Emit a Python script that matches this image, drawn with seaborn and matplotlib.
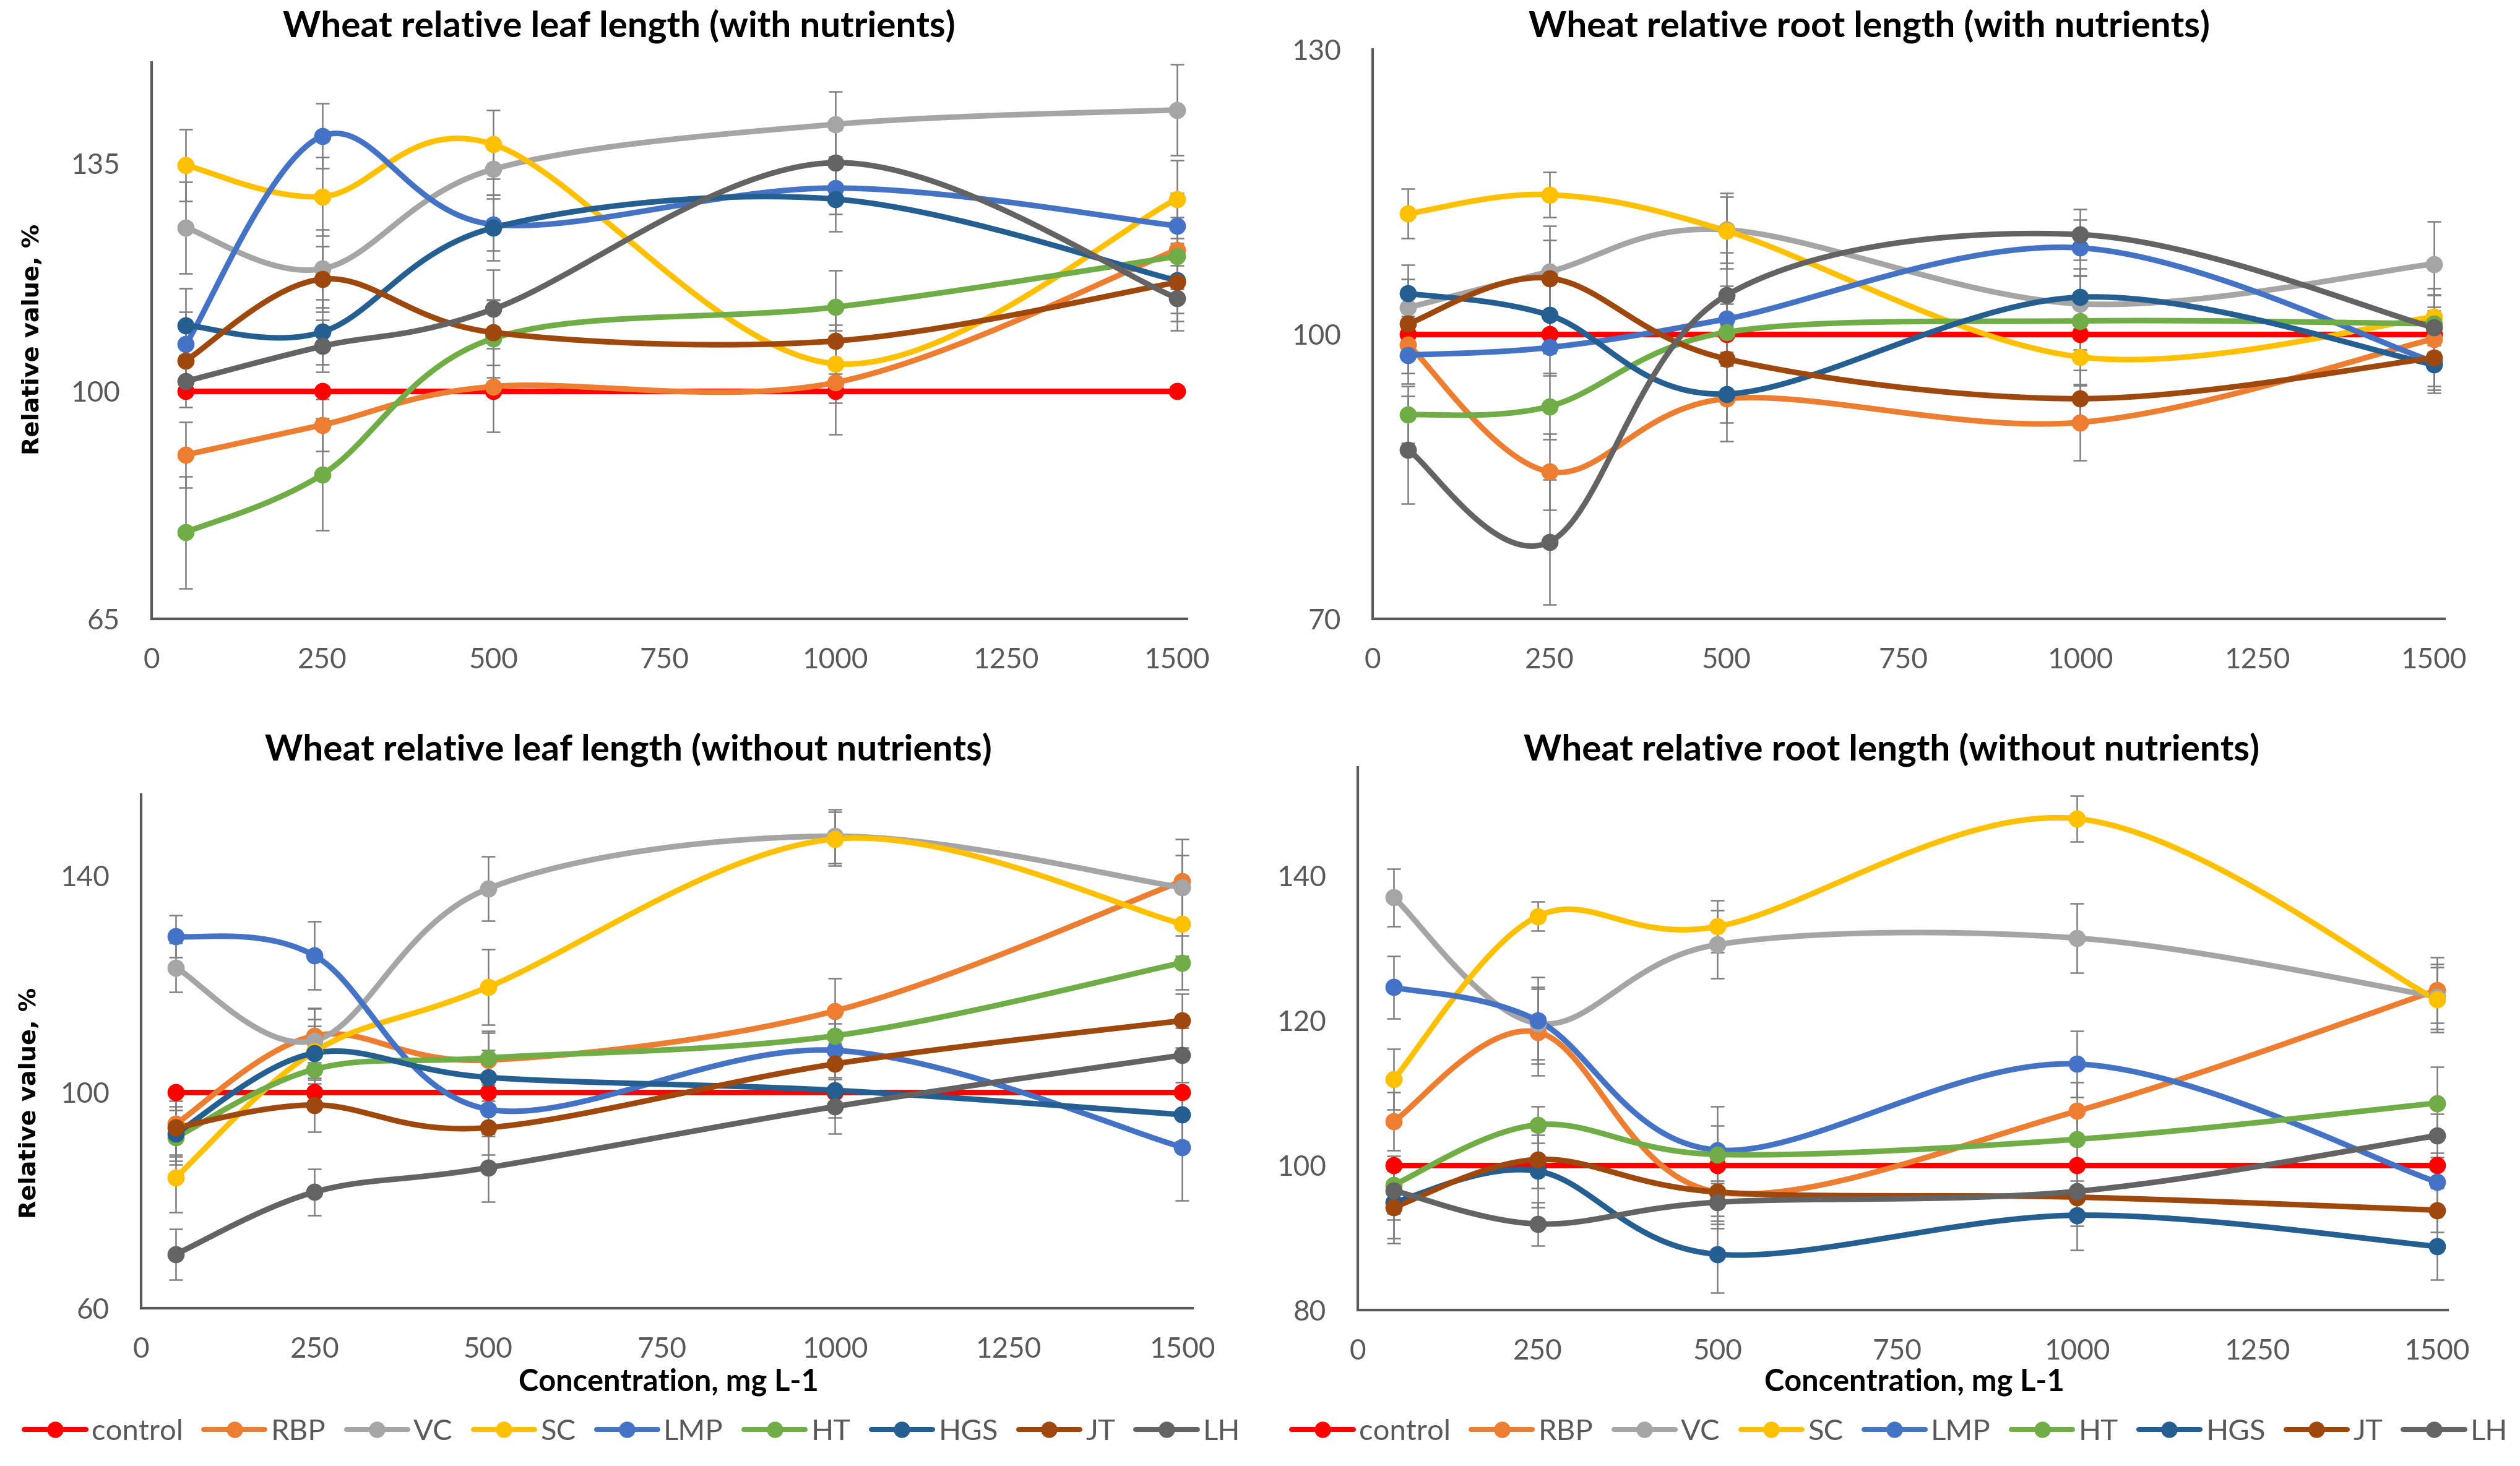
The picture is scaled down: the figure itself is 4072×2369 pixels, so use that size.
import numpy as np
import pandas as pd
import matplotlib
matplotlib.use('Agg')
import matplotlib.pyplot as plt
from matplotlib.lines import Line2D
import seaborn as sns

# concentrations (mg L-1) and treatments
conc = [50, 250, 500, 1000, 1500]
series = ['control', 'RBP', 'VC', 'SC', 'LMP', 'HT', 'HGS', 'JT', 'LH']
colors = ['#FF0000', '#ED7D31', '#A5A5A5', '#FFC000', '#4472C4',
          '#70AD47', '#255E91', '#9E480E', '#636363']

# leaf length, with nutrients (rows in series order)
leaf_with = [
    [100, 100, 100, 100, 100],
    [90.2, 94.8, 100.7, 101.3, 121.7],
    [125.1, 118.8, 134.1, 141.0, 143.2],
    [134.7, 129.9, 137.9, 104.2, 129.5],
    [107.2, 139.2, 125.6, 131.2, 125.4],
    [78.3, 87.2, 108.1, 112.9, 120.7],
    [110.1, 109.1, 125.1, 129.5, 117.0],
    [104.7, 117.2, 109.0, 107.7, 116.7],
    [101.5, 106.9, 112.6, 135.1, 114.3],
]
leaf_with_err = [
    [0, 0, 0, 0, 0],
    [5, 4, 7, 8, 5],
    [7, 6, 4, 5, 7],
    [5.5, 6, 5.3, 6, 6],
    [5, 5, 4, 4, 5],
    [8.6, 8.6, 6, 5.6, 5],
    [5.7, 5, 5, 5, 5],
    [5, 5, 5, 5, 6],
    [4, 4, 6, 5, 5],
]

# root length, with nutrients
root_with = [
    [100, 100, 100, 100, 100],
    [98.9, 85.5, 93.2, 90.7, 99.5],
    [102.8, 106.6, 111.0, 103.2, 107.4],
    [112.7, 114.7, 110.9, 97.6, 101.8],
    [97.8, 98.6, 101.6, 109.1, 97.1],
    [91.5, 92.4, 100.2, 101.4, 101.1],
    [104.3, 102.0, 93.7, 103.9, 96.8],
    [101.1, 105.9, 97.4, 93.2, 97.5],
    [87.8, 78.1, 104.1, 110.5, 100.7],
]
root_with_err = [
    [0, 0, 0, 0, 0],
    [3, 4, 4.5, 4, 3],
    [3, 4.8, 3.5, 3, 4.5],
    [2.6, 2.4, 4, 3, 3],
    [3, 3, 3.5, 3, 3],
    [3, 3.5, 3, 3, 3],
    [3, 4, 3, 3, 3],
    [3, 4, 3.5, 3, 3],
    [5.7, 6.6, 4.5, 2.7, 3.5],
]

# leaf length, without nutrients
leaf_without = [
    [100, 100, 100, 100, 100],
    [94.1, 110.4, 105.9, 115.0, 139.0],
    [123.0, 109.5, 137.6, 147.3, 137.8],
    [84.2, 107.5, 119.4, 146.8, 131.1],
    [128.8, 125.2, 96.8, 107.7, 89.8],
    [91.6, 104.2, 106.3, 110.4, 123.9],
    [92.3, 107.2, 102.7, 100.3, 95.8],
    [93.4, 97.6, 93.4, 105.2, 113.2],
    [70.0, 81.5, 86.0, 97.3, 106.8],
]
leaf_without_err = [
    [0, 0, 0, 0, 0],
    [6, 5, 5, 6, 7.8],
    [4.5, 6, 5.9, 5, 6],
    [6.5, 6, 7, 5, 6],
    [3.9, 6.3, 5, 5, 9.9],
    [5, 5, 5, 5, 5],
    [5, 5, 5, 5, 5],
    [5, 5, 5, 5, 5],
    [4.7, 4.3, 6.3, 5, 5],
]

# root length, without nutrients
root_without = [
    [100, 100, 100, 100, 100],
    [106.1, 118.4, 96.3, 107.5, 124.2],
    [137.0, 119.6, 130.5, 131.4, 123.3],
    [111.9, 134.4, 133.0, 147.9, 122.9],
    [124.6, 120.0, 102.1, 114.0, 97.7],
    [97.3, 105.6, 101.5, 103.6, 108.6],
    [94.9, 99.2, 87.7, 93.1, 88.8],
    [94.2, 100.8, 96.3, 95.6, 93.8],
    [96.5, 91.9, 94.9, 96.4, 104.1],
]
root_without_err = [
    [0, 0, 0, 0, 0],
    [4, 6, 5, 4, 4.5],
    [4, 5, 4.7, 4.8, 4.5],
    [4.2, 2, 3.6, 3.2, 4.5],
    [4.3, 6, 6, 4.6, 4],
    [4, 2.5, 4, 4, 5],
    [5, 5, 5.3, 4.8, 4.6],
    [5, 4, 4, 4, 3],
    [4, 3, 3, 3, 3],
]

sns.set_theme(style='white')
plt.rcParams['font.family'] = ['Lato', 'DejaVu Sans']

GREY = '#595959'


def smooth(xs, ys, n=40):
    # excel-like smoothed line: bezier segments with neighbour based tangents
    p = np.column_stack([xs, ys]).astype(float)
    ext = np.vstack([p[0], p, p[-1]])
    out = []
    t = np.linspace(0, 1, n)[:, None]
    for i in range(len(p) - 1):
        p0, p1 = ext[i + 1], ext[i + 2]
        c1 = p0 + (ext[i + 2] - ext[i]) / 6
        c2 = p1 - (ext[i + 3] - ext[i + 1]) / 6
        seg = (1 - t) ** 3 * p0 + 3 * (1 - t) ** 2 * t * c1 + 3 * (1 - t) * t ** 2 * c2 + t ** 3 * p1
        out.append(seg if i == 0 else seg[1:])
    return np.vstack(out)


def draw_panel(ax, vals, errs, ylim, yticks):
    for name, col, v, e in zip(series, colors, vals, errs):
        curve = smooth(conc, v)
        df = pd.DataFrame({'x': curve[:, 0], 'y': curve[:, 1]})
        sns.lineplot(data=df, x='x', y='y', ax=ax, color=col, lw=6.5,
                     sort=False, estimator=None)
        if any(e):
            ax.errorbar(conc, v, yerr=e, fmt='none', ecolor='#7F7F7F',
                        elinewidth=1.8, capsize=8, capthick=1.8, zorder=3)
        sns.scatterplot(x=conc, y=v, ax=ax, color=col, s=400,
                        edgecolor=col, linewidth=0, zorder=4)
    ax.set_xlim(0, 1515)
    ax.set_ylim(*ylim)
    ax.set_xticks(range(0, 1501, 250))
    ax.set_yticks(yticks)
    ax.set_xlabel('')
    ax.set_ylabel('')
    ax.tick_params(axis='both', length=0, labelsize=33, labelcolor=GREY)
    ax.tick_params(axis='x', pad=33)
    ax.tick_params(axis='y', pad=37)
    for s in ['top', 'right']:
        ax.spines[s].set_visible(False)
    for s in ['left', 'bottom']:
        ax.spines[s].set_color(GREY)
        ax.spines[s].set_linewidth(3)
    ax.grid(False)


fig = plt.figure(figsize=(40.72, 23.69), dpi=100)
ax1 = fig.add_axes([0.0602, 0.5779, 0.4109, 0.3795])
ax2 = fig.add_axes([0.5447, 0.5779, 0.4253, 0.3883])
ax3 = fig.add_axes([0.0560, 0.1076, 0.4172, 0.3504])
ax4 = fig.add_axes([0.5388, 0.1064, 0.4325, 0.3702])

draw_panel(ax1, leaf_with, leaf_with_err, (65, 150.5), [65, 100, 135])
draw_panel(ax2, root_with, root_with_err, (70, 130), [70, 100, 130])
draw_panel(ax3, leaf_without, leaf_without_err, (60, 155), [60, 100, 140])
draw_panel(ax4, root_without, root_without_err, (80, 155), [80, 100, 120, 140])

title_kw = dict(fontsize=42, fontweight='bold', color='black', ha='center', va='center')
fig.text(1000 / 4072, 1 - 42 / 2369, 'Wheat relative leaf length (with nutrients)', **title_kw)
fig.text(3020 / 4072, 1 - 42 / 2369, 'Wheat relative root length (with nutrients)', **title_kw)
fig.text(1015 / 4072, 1 - 1211 / 2369, 'Wheat relative leaf length (without nutrients)', **title_kw)
fig.text(3057 / 4072, 1 - 1211 / 2369, 'Wheat relative root length (without nutrients)', **title_kw)

ylab_kw = dict(fontsize=27.5, fontweight='bold', family='DejaVu Sans', rotation=90,
               ha='center', va='center', color='black')
fig.text(53 / 4072, 1 - 548 / 2369, 'Relative value, %', **ylab_kw)
fig.text(48 / 4072, 1 - 1782 / 2369, 'Relative value, %', **ylab_kw)

xlab_kw = dict(fontsize=35, fontweight='bold', ha='center', va='center', color='black')
fig.text(1080 / 4072, 1 - 2233 / 2369, 'Concentration, mg L-1', **xlab_kw)
fig.text(3093 / 4072, 1 - 2233 / 2369, 'Concentration, mg L-1', **xlab_kw)

handles = [Line2D([0], [0], color=c, lw=5.8, marker='o', markersize=18) for c in colors]
for cx in [1022 / 4072, 3070 / 4072]:
    fig.legend(handles, series, loc='center', bbox_to_anchor=(cx, 1 - 2314 / 2369),
               ncol=9, frameon=False, fontsize=34, handlelength=2.1,
               handletextpad=0.2, columnspacing=0.7, labelcolor=GREY)

fig.savefig('out.png', dpi=100)
